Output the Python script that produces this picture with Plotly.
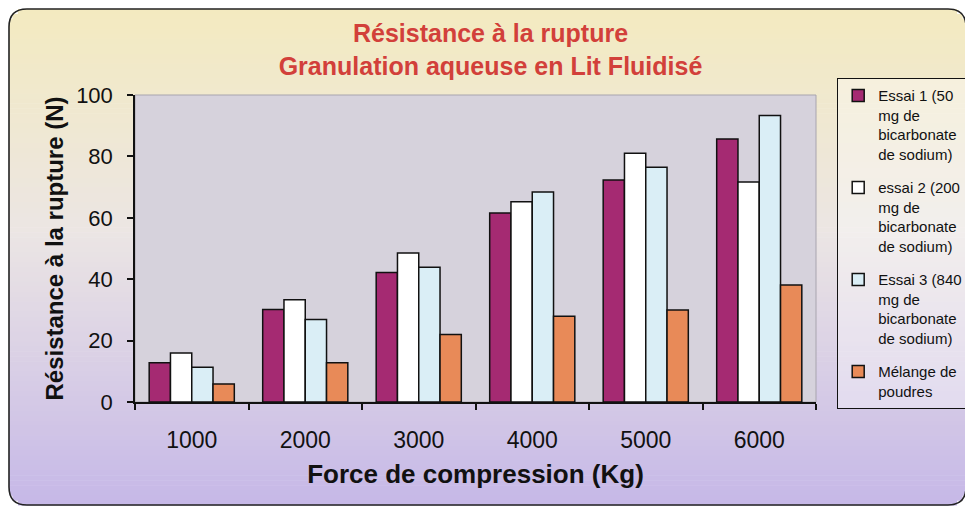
import math
import plotly.graph_objects as go

categories = ["1000", "2000", "3000", "4000", "5000", "6000"]
essai1 = [12.8, 30.1, 42.2, 61.6, 72.3, 85.7]
essai2 = [16.0, 33.3, 48.5, 65.2, 81.0, 71.7]
essai3 = [11.3, 26.9, 43.9, 68.4, 76.5, 93.3]
melange = [5.9, 12.8, 22.0, 27.9, 30.0, 38.1]

names = [
    "Essai 1 (50<br>mg de<br>bicarbonate<br>de sodium)",
    "essai 2 (200<br>mg de<br>bicarbonate<br>de sodium)",
    "Essai 3 (840<br>mg de<br>bicarbonate<br>de sodium)",
    "Mélange de<br>poudres",
]
colors = ["#A52A72", "#FFFFFF", "#DAEEF6", "#E88A58"]
series = [essai1, essai2, essai3, melange]

# the page body adds an 8px offset; figure coordinates below are screen - 8
OFF = 8
W, H = 973 - OFF, 508 - OFF
L, R, T, B = 135 - OFF, 816 - OFF, 95 - OFF, 402 - OFF


def px(x):
    return (x - L) / (R - L)


def py(y):
    return (B - y) / (B - T)


fig = go.Figure()
for n, c, v in zip(names, colors, series):
    fig.add_trace(go.Bar(x=categories, y=v, name=n, legendgroup=n,
                         marker=dict(color=c, line=dict(color="#111111", width=1.5))))

# vertical gradient background via strips, clipped to a rounded frame
stops = [(0, (244, 235, 192)), (0.45, (236, 230, 228)), (1.0, (198, 184, 232))]


def grad(t):
    for (t0, c0), (t1, c1) in zip(stops[:-1], stops[1:]):
        if t <= t1:
            f = (t - t0) / (t1 - t0)
            return tuple(int(c0[k] + (c1[k] - c0[k]) * f) for k in range(3))
    return stops[-1][1]


fl, ft, fr, fb, rr = 1, 1, 958, 497, 18
shapes = []
N = 100
for i in range(N):
    y0 = ft + i * (fb - ft) / N
    y1 = ft + (i + 1) * (fb - ft) / N
    ym = (y0 + y1) / 2
    inset = 0
    d = None
    if ym < ft + rr:
        d = ft + rr - ym
    elif ym > fb - rr:
        d = ym - (fb - rr)
    if d is not None:
        inset = rr - math.sqrt(max(rr * rr - d * d, 0))
    col = grad((i + 0.5) / N)
    shapes.append(dict(type="rect", xref="paper", yref="paper", layer="below",
                       x0=px(fl + inset), x1=px(fr - inset), y0=py(y1 + 0.6), y1=py(y0),
                       fillcolor="rgb(%d,%d,%d)" % col, line=dict(width=0)))
# plot area background
shapes.append(dict(type="rect", xref="paper", yref="paper", layer="below",
                   x0=0, x1=1, y0=0, y1=1, fillcolor="#D6D2DC",
                   line=dict(color="#A8A4AE", width=1)))
# rounded outer frame
path = ("M {a},{b} L {c},{d} Q {e},{f} {g},{h} L {i},{j} Q {k},{l} {m},{n} "
        "L {o},{p} Q {q},{r} {s},{t} L {u},{v} Q {w},{x} {a},{b} Z").format(
    a=px(fl), b=py(fb - rr), c=px(fl), d=py(ft + rr), e=px(fl), f=py(ft), g=px(fl + rr), h=py(ft),
    i=px(fr - rr), j=py(ft), k=px(fr), l=py(ft), m=px(fr), n=py(ft + rr),
    o=px(fr), p=py(fb - rr), q=px(fr), r=py(fb), s=px(fr - rr), t=py(fb),
    u=px(fl + rr), v=py(fb), w=px(fl), x=py(fb))
shapes.append(dict(type="path", xref="paper", yref="paper", layer="above",
                   path=path, line=dict(color="#222222", width=1.6)))

fig.update_layout(
    width=W, height=H,
    margin=dict(l=L, r=W - R, t=T, b=H - B, autoexpand=False),
    paper_bgcolor="#FFFFFF",
    plot_bgcolor="rgba(0,0,0,0)",
    barmode="group", bargap=0.25, bargroupgap=0,
    font=dict(family="Liberation Sans, Arial, sans-serif", color="#111111"),
    title=dict(text="<b>Résistance à la rupture<br>Granulation aqueuse en Lit Fluidisé</b>",
               x=0.5, xanchor="center", y=1 - 34 / H, yanchor="top",
               font=dict(size=25, color="#D2403A")),
    shapes=shapes,
    legend=dict(x=px(837 - OFF), y=py(78 - OFF), xanchor="left", yanchor="top",
                bordercolor="#111111", borderwidth=1.2,
                bgcolor="rgba(255,255,255,0.35)",
                font=dict(size=15, color="#111111"), tracegroupgap=11,
                itemwidth=30, maxheight=380, valign="top"),
    xaxis=dict(type="category", showline=True, linecolor="#111111", linewidth=1.5,
               ticks="outside", tickson="boundaries", ticklen=6, tickcolor="#111111",
               tickwidth=1.5, tickfont=dict(size=23), showgrid=False,
               ticklabelstandoff=17, automargin=False,
               title=dict(text="<b>Force de compression (Kg)</b>", font=dict(size=26), standoff=12)),
    yaxis=dict(range=[0, 100], dtick=20, showline=True, linecolor="#111111", linewidth=1.5,
               ticks="outside", ticklen=6, tickcolor="#111111", tickwidth=1.5,
               tickfont=dict(size=22), ticklabelstandoff=10,
               showgrid=False, zeroline=False, automargin=False,
               title=dict(text="<b>Résistance à la rupture (N)</b>", font=dict(size=24), standoff=6)),
)

fig.write_html("out.html")
